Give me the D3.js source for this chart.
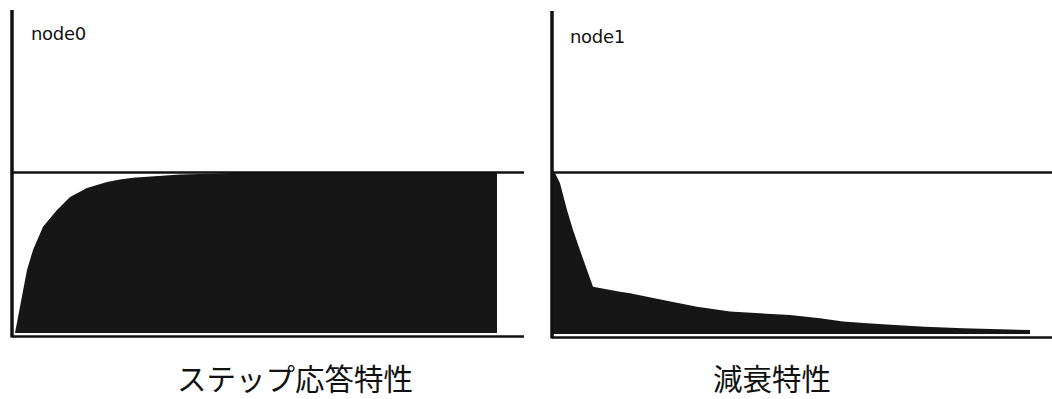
<!DOCTYPE html>
<html>
<head>
<meta charset="utf-8">
<script src="https://cdn.jsdelivr.net/npm/d3@7"></script>
<style>
  body { margin: 0; background: #fff; }
  .node { font-family: "DejaVu Sans", sans-serif; font-size: 18px; fill: #111; letter-spacing: -0.3px; }
  .caption { font-family: "Noto Sans CJK JP", sans-serif; font-size: 29.5px; fill: #111; }
</style>
</head>
<body>
<script>
// step response (node0): time step vs. value
var stepT = [0, 5, 12, 18, 28, 42, 55, 72, 92, 105, 118, 165, 220, 482];
var stepV = [0, 0.164, 0.394, 0.519, 0.664, 0.769, 0.85, 0.906, 0.944, 0.959, 0.97, 0.99, 1.0, 1.0];

// decay (node1)
var decayT = [0, 2, 7, 14, 20, 27, 34, 40, 67, 77, 110, 144, 177, 237, 267, 290, 314, 342, 372, 410, 477];
var decayV = [1.0, 1.0, 0.936, 0.77, 0.646, 0.52, 0.398, 0.294, 0.262, 0.253, 0.211, 0.17, 0.139, 0.118, 0.098, 0.077, 0.066, 0.056, 0.045, 0.035, 0.025];

var nodeNames = ["node0", "node1"];
var captions = ["ステップ応答特性", "減衰特性"];

var svg = d3.select("body").append("svg").attr("width", 1052).attr("height", 399);

var panels = [
  { t: stepT, v: stepV, left: 12, x0: 15, lineEnd: 524, yBottom: 333, top: 10, lx: 31, ly: 40, cx: 295 },
  { t: decayT, v: decayV, left: 552, x0: 553, lineEnd: 1052, yBottom: 334, top: 11, lx: 570, ly: 43, cx: 772 }
];

panels.forEach(function (p, i) {
  var x = d3.scaleLinear().domain([0, 480]).range([p.x0, p.x0 + 480]);
  var y = d3.scaleLinear().domain([0, 1]).range([p.yBottom, 173]);
  var data = p.t.map(function (d, j) { return { t: d, v: p.v[j] }; });

  var g = svg.append("g");

  var area = d3.area()
    .x(function (d) { return x(d.t); })
    .y0(y(0))
    .y1(function (d) { return y(d.v); });

  g.append("path").datum(data)
    .attr("d", area)
    .attr("fill", "#161616");

  // reference line at 1.0
  g.append("line")
    .attr("x1", p.left).attr("x2", p.lineEnd)
    .attr("y1", y(1) - 0.5).attr("y2", y(1) - 0.5)
    .attr("stroke", "#111").attr("stroke-width", 2.5);

  // baseline
  g.append("line")
    .attr("x1", p.left).attr("x2", p.lineEnd)
    .attr("y1", y(0) + 3.5).attr("y2", y(0) + 3.5)
    .attr("stroke", "#111").attr("stroke-width", 2.5);

  // vertical axis
  g.append("line")
    .attr("x1", p.left).attr("x2", p.left)
    .attr("y1", p.top).attr("y2", y(0) + 4.5)
    .attr("stroke", "#111").attr("stroke-width", 3.5);

  g.append("text").attr("class", "node")
    .attr("x", p.lx).attr("y", p.ly)
    .text(nodeNames[i]);

  g.append("text").attr("class", "caption")
    .attr("x", p.cx).attr("y", 390)
    .attr("text-anchor", "middle")
    .text(captions[i]);
});
</script>
</body>
</html>
